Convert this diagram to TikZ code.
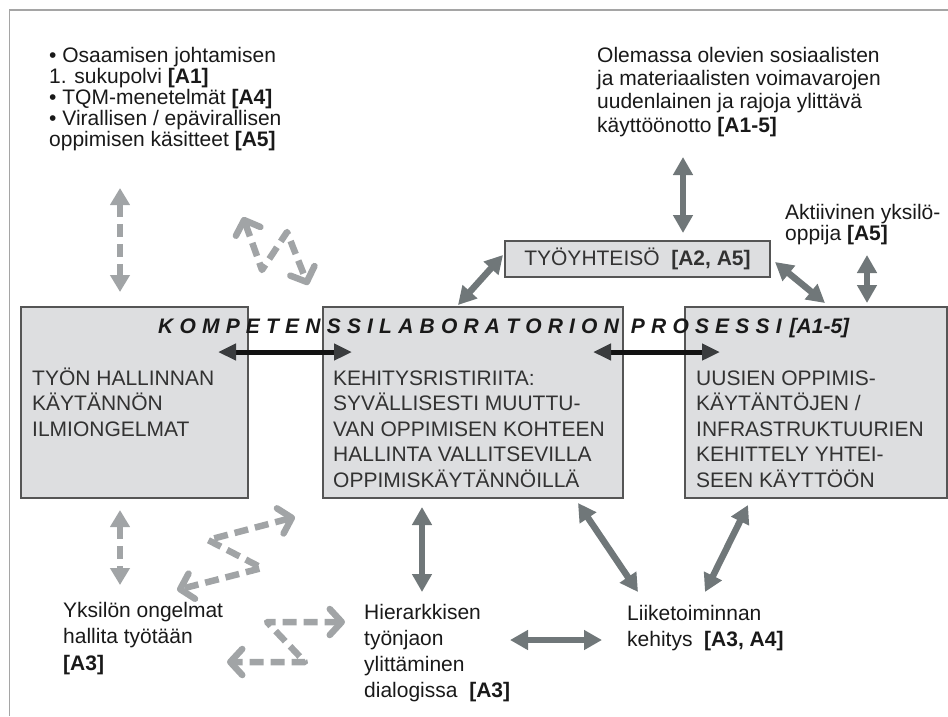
\documentclass[tikz,border=0pt]{standalone}
\usepackage{fontspec}
\setsansfont{Liberation Sans}
\usetikzlibrary{arrows.meta}
\definecolor{boxfill}{RGB}{221,222,224}\definecolor{boxline}{RGB}{85,85,85}\definecolor{boxtext}{RGB}{50,50,50}
\definecolor{lightarr}{RGB}{161,164,166}\definecolor{darkarr}{RGB}{112,119,121}\definecolor{blkhead}{RGB}{58,60,62}\definecolor{framegray}{RGB}{165,165,165}

\begin{document}
\begin{tikzpicture}[x=1pt,y=-1pt,font=\sffamily\fontsize{21}{22}\selectfont,box/.style={draw=boxline, fill=boxfill, line width=1.2pt, inner sep=0pt},boxtxt/.style={anchor=base west, align=left, inner sep=0pt, text=boxtext, font=\sffamily\fontsize{21}{25.5}\selectfont},txt/.style={anchor=base west, align=left, inner sep=0pt, text=black!90},darrow/.style={draw=darkarr, line width=6.5pt, {Triangle[length=18pt,width=19pt]}-{Triangle[length=18pt,width=19pt]}},ldash/.style={draw=lightarr, line width=6pt, dash pattern=on 13pt off 7pt, {Triangle[length=17pt,width=19pt]}-{Triangle[length=17pt,width=19pt]}},zig/.style={draw=lightarr, line width=6.5pt, dash pattern=on 14pt off 7pt, line join=round, {Straight Barb[length=12pt,width=26pt,round]}-{Straight Barb[length=12pt,width=26pt,round]}},blk/.style={draw=black!93, line width=5pt, {Triangle[length=18pt,width=16pt,color=blkhead]}-{Triangle[length=18pt,width=16pt,color=blkhead]}}]
\useasboundingbox (0,0) rectangle (948,716);
\draw[framegray, line width=1.5pt] (9.5,716) -- (9.5,10) -- (948,10);
% the three process boxes and the work community (text nodes sit on the baseline of their last line)
\node[box, minimum width=227pt, minimum height=191pt] (lbox) at (134.5,402.5) {};\node[box, minimum width=300pt, minimum height=191pt] (mbox) at (473,402.5) {};\node[box, minimum width=262pt, minimum height=191pt] (rbox) at (816,402.5) {};
\node[box, minimum width=265pt, minimum height=36pt, text=boxtext] (tyo) at (637.5,259) {TYÖYHTEISÖ\ \ \textbf{[A2, A5]}};
\node[boxtxt] (ltxt) at (32,436) {TYÖN HALLINNAN\\KÄYTÄNNÖN\\ILMIONGELMAT};
\node[boxtxt] (mtxt) at (333,487) {KEHITYSRISTIRIITA:\\SYVÄLLISESTI MUUTTU-\\VAN OPPIMISEN KOHTEEN\\HALLINTA VALLITSEVILLA\\OPPIMISKÄYTÄNNÖILLÄ};
\node[boxtxt] (rtxt) at (696,487) {UUSIEN OPPIMIS-\\KÄYTÄNTÖJEN /\\INFRASTRUKTUURIEN\\KEHITTELY YHTEI-\\SEEN KÄYTTÖÖN};
\node[anchor=base west, inner sep=0pt, text=black!90, font=\sffamily\bfseries\itshape\fontsize{21}{24}\selectfont] (title) at (158,333) {\spaceskip=6.2pt K O M P E T E N S S I L A B O R A T O R I O N\hspace{12pt}P R O S E S S I\hspace{8pt}[A1-5]};
% outside labels
\node[txt, font=\sffamily\fontsize{21}{21}\selectfont] (know) at (49,146) {• Osaamisen johtamisen\\1. sukupolvi \textbf{[A1]}\\• TQM-menetelmät \textbf{[A4]}\\• Virallisen / epävirallisen\\oppimisen käsitteet \textbf{[A5]}};
\node[txt, font=\sffamily\fontsize{21}{23.3}\selectfont] (res) at (597,132) {Olemassa olevien sosiaalisten\\ja materiaalisten voimavarojen\\uudenlainen ja rajoja ylittävä\\käyttöönotto \textbf{[A1-5]}};
\node[txt, font=\sffamily\fontsize{21}{21}\selectfont] (akt) at (785,240) {Aktiivinen yksilö-\\oppija \textbf{[A5]}};
\node[txt, font=\sffamily\fontsize{21}{26.5}\selectfont] (yks) at (63,670) {Yksilön ongelmat\\hallita työtään\\\textbf{[A3]}};
\node[txt, font=\sffamily\fontsize{21}{25.7}\selectfont] (hier) at (364,697) {Hierarkkisen\\työnjaon\\ylittäminen\\dialogissa\ \ \textbf{[A3]}};
\node[txt, font=\sffamily\fontsize{21}{26}\selectfont] (liike) at (627,646) {Liiketoiminnan\\kehitys\ \ \textbf{[A3, A4]}};
% arrow ends
\coordinate (k1) at (120,188);\coordinate (k2) at (120,292);\coordinate (y1) at (120,510);\coordinate (y2) at (120,585);
\coordinate (z1) at (243,217);\coordinate (z2) at (262,270);\coordinate (z3) at (287,232);\coordinate (z4) at (308,285);
\coordinate (s1) at (295,517);\coordinate (s2) at (208,540);\coordinate (s3) at (262,568);\coordinate (s4) at (177,590);
\coordinate (h1) at (345,622);\coordinate (h2) at (267,622);\coordinate (h3) at (305,662);\coordinate (h4) at (227,662);
\coordinate (b1) at (218,352);\coordinate (b2) at (352,352);\coordinate (b3) at (593,352);\coordinate (b4) at (720,352);
\coordinate (r1) at (683,157);\coordinate (r2) at (683,233);\coordinate (t1) at (503,255);\coordinate (t2) at (458,305);\coordinate (t3) at (775,262);\coordinate (t4) at (825,303);\coordinate (a1) at (867,255);\coordinate (a2) at (867,303);
\coordinate (m1) at (422,507);\coordinate (m2) at (422,592);\coordinate (e1) at (510,640);\coordinate (e2) at (602,640);\coordinate (d1) at (578,503);\coordinate (d2) at (638,592);\coordinate (d3) at (748,505);\coordinate (d4) at (705,592);
% connectors
\draw[ldash] (k1) -- (k2);\draw[ldash] (y1) -- (y2);
\draw[zig] (z1) -- (z2) -- (z3) -- (z4);\draw[zig] (s1) -- (s2) -- (s3) -- (s4);\draw[zig] (h1) -- (h2) -- (h3) -- (h4);
\draw[blk] (b1) -- (b2);\draw[blk] (b3) -- (b4);
\draw[darrow] (r1) -- (r2);\draw[darrow] (t1) -- (t2);\draw[darrow] (t3) -- (t4);\draw[darrow] (a1) -- (a2);
\draw[darrow] (m1) -- (m2);\draw[darrow] (e1) -- (e2);\draw[darrow] (d1) -- (d2);\draw[darrow] (d3) -- (d4);
\end{tikzpicture}
\end{document}
